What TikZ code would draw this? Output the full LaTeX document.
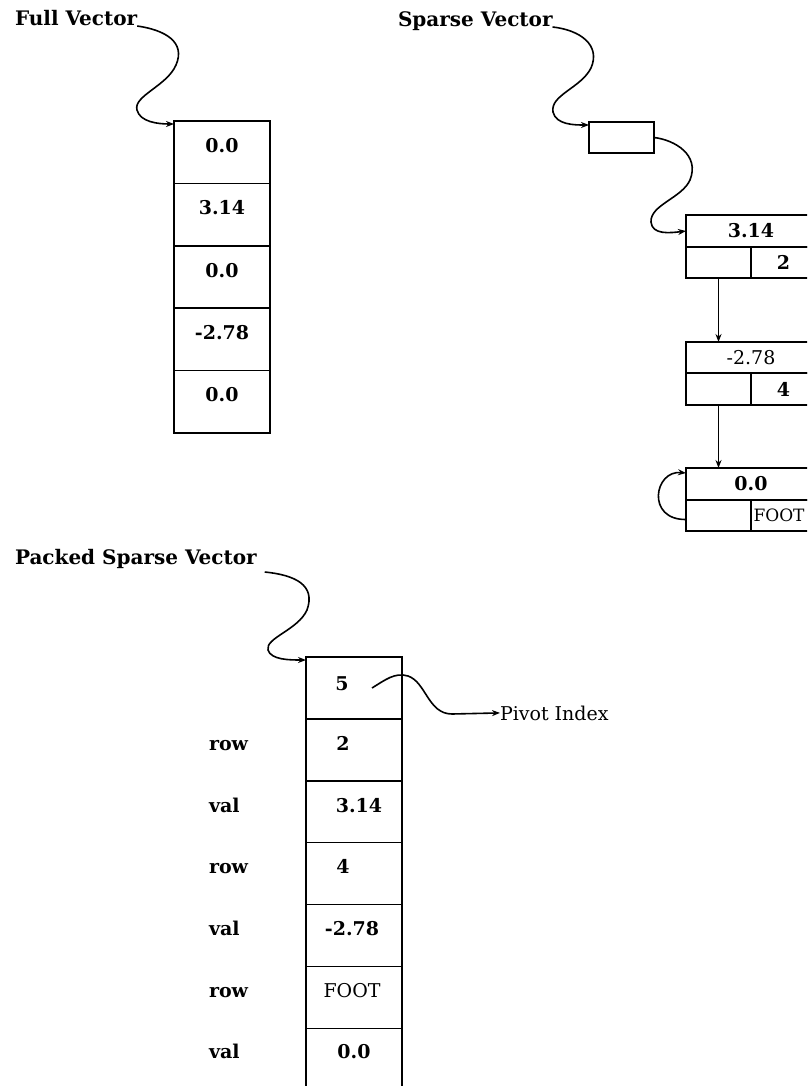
\documentclass[tikz,border=0pt]{standalone}
\usepackage{fontspec}
\setmainfont{DejaVu Serif}
\usetikzlibrary{arrows.meta,calc}
\newcommand{\myb}{\fontsize{19}{22}\selectfont\bfseries}
\newcommand{\myt}{\fontsize{20}{24}\selectfont\bfseries}
\newcommand{\myr}{\fontsize{19}{22}\selectfont}
\newcommand{\mys}{\fontsize{17}{20}\selectfont}
\begin{document}
\begin{tikzpicture}[x=1pt,y=-1pt,
  every node/.style={inner sep=0pt, outer sep=0pt},
  xtitle/.style={font=\myt, anchor=base west},
  fcell/.style={draw, line width=1.5pt, font=\myb, minimum width=96pt, minimum height=62.4pt, text height=14pt, text depth=14pt},
  scell/.style={draw, line width=1.5pt, font=\myb},
  pcell/.style={draw, line width=1.5pt, minimum width=96pt, minimum height=61.9pt},
  ptext/.style={font=\myb, anchor=base},
  xside/.style={font=\myb, anchor=base west},
  link/.style={line width=1.6pt, -{Stealth[length=8pt,width=6pt]}},
]
\clip (0,0) rectangle (807,1086);
\fill[white] (0,0) rectangle (807,1086);

% ---------- Full Vector ----------
\node[xtitle] (fvl) at (15,26) {Full Vector};
\node[fcell] (fv1) at (222,152.2) {0.0};
\node[fcell] (fv2) at (222,214.6) {3.14};
\node[fcell] (fv3) at (222,277.0) {0.0};
\node[fcell] (fv4) at (222,339.4) {-2.78};
\node[fcell] (fv5) at (222,401.8) {0.0};
\draw[link] (fvl.base east) .. controls (165,30) and (186,42) .. (176,65)
  .. controls (167,86) and (133,96) .. (137,110)
  .. controls (140,122) and (158,124) .. ($(fv1.north west)+(0,3)$);

% ---------- Sparse Vector ----------
\node[xtitle] (svl) at (398,27) {Sparse Vector};
\node[draw, line width=1.5pt, minimum width=65pt, minimum height=31pt] (sb) at (621.5,137.5) {};
\draw[link] (svl.base east) .. controls (580,30) and (601,45) .. (591,68)
  .. controls (581,88) and (550,95) .. (553,112)
  .. controls (556,125) and (575,125) .. ($(sb.north west)+(0,3)$);

\node[scell, minimum width=130pt, minimum height=32pt] (s1v) at (751,231) {3.14};
\node[scell, minimum width=65pt, minimum height=31pt] (s1p) at (718.5,262.5) {};
\node[scell, minimum width=65pt, minimum height=31pt] (s1r) at (783.5,262.5) {2};

\node[scell, font=\myr, minimum width=130pt, minimum height=31pt] (s2v) at (751,357.5) {-2.78};
\node[scell, minimum width=65pt, minimum height=32pt] (s2p) at (718.5,389) {};
\node[scell, minimum width=65pt, minimum height=32pt] (s2r) at (783.5,389) {4};

\node[scell, minimum width=130pt, minimum height=32pt] (s3v) at (751,484) {0.0};
\node[scell, minimum width=65pt, minimum height=31pt] (s3p) at (718.5,515.5) {};
\node[scell, minimum width=65pt, minimum height=31pt] (s3r) at (783.5,515.5) {};
\node[font=\mys, anchor=west] (s3t) at (753.5,515.5) {FOOT};

\draw[link] (sb.east) .. controls (675,140) and (700,155) .. (690,180)
  .. controls (682,198) and (650,205) .. (651,222)
  .. controls (652,235) and (670,233) .. (s1v.west);
\draw[link] (s1p.south) -- (s2v.north -| s1p.south);
\draw[link] (s2p.south) -- (s3v.north -| s2p.south);
\draw[link] ($(s3p.west)+(0,4)$) .. controls (646,520) and (654,470) .. ($(s3v.north west)+(0,5)$);

% ---------- Packed Sparse Vector ----------
\node[xtitle] (pvl) at (15,564) {Packed Sparse Vector};
\node[pcell] (p1) at (354,687.95) {};
\node[pcell] (p2) at (354,749.85) {};
\node[pcell] (p3) at (354,811.75) {};
\node[pcell] (p4) at (354,873.65) {};
\node[pcell] (p5) at (354,935.55) {};
\node[pcell] (p6) at (354,997.45) {};
\node[pcell] (p7) at (354,1059.35) {};

\node[ptext] (t1) at (342,690) {5};
\node[ptext] (t2) at (343,750) {2};
\node[ptext] (t3) at (359,812) {3.14};
\node[ptext] (t4) at (343,873) {4};
\node[ptext] (t5) at (352,935) {-2.78};
\node[ptext, font=\myr] (t6) at (352,997) {FOOT};
\node[ptext] (t7) at (354,1058) {0.0};

\node[xside] (r2) at (209,750) {row};
\node[xside] (r3) at (209,812) {val};
\node[xside] (r4) at (209,873) {row};
\node[xside] (r5) at (209,935) {val};
\node[xside] (r6) at (209,997) {row};
\node[xside] (r7) at (209,1058) {val};

\draw[link] ($(pvl.base east)+(8,8)$) .. controls (295,575) and (316,585) .. (307,610)
  .. controls (298,630) and (265,638) .. (268,650)
  .. controls (271,660) and (290,660) .. ($(p1.north west)+(0,3)$);

\node[font=\myr, anchor=base west] (piv) at (500,720) {Pivot Index};
\coordinate (pvs) at (372,688);
\draw[link] (pvs) .. controls (385,680) and (395,672) .. (408,676)
  .. controls (426,682) and (428,714) .. (452,714) -- (piv.west);
\end{tikzpicture}
\end{document}
